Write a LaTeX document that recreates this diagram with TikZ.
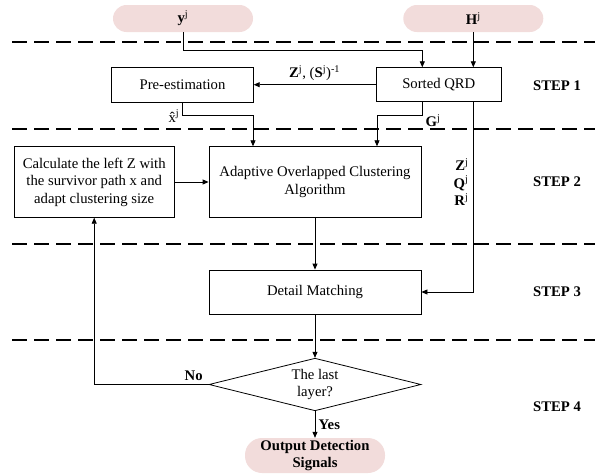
\documentclass[tikz,border=0pt]{standalone}
\usepackage{fontspec}
\setmainfont{Liberation Serif}
\usetikzlibrary{shapes.geometric, arrows.meta, positioning, calc}
\definecolor{pillpink}{RGB}{242,220,219}

\begin{document}
\begin{tikzpicture}[x=1pt, y=-1pt, align=center,
    font=\fontsize{14.7}{17.5}\selectfont,
    box/.style={draw, rectangle, line width=0.8pt, inner sep=2pt},
    pill/.style={rectangle, fill=pillpink, minimum width=140pt, inner sep=1pt},
    arr/.style={-{Triangle[length=6pt, width=5pt]}, line width=0.8pt},
    sepline/.style={dash pattern=on 15pt off 7pt, line width=1.6pt},
    steplabel/.style={font=\fontsize{14.7}{17.5}\selectfont\bfseries}]
    \useasboundingbox (0,0) rectangle (595,474);

    % step separators
    \foreach \y in {41.7, 129, 244, 340}
      \draw[sepline] (12,\y) -- (595,\y);

    \node [pill, rounded corners=13.5pt, minimum height=27pt] (yin) at (183,18.5) {\textbf{y}\textsuperscript{j}};
    \node [pill, rounded corners=13.5pt, minimum height=27pt] (hin) at (473.3,18.5) {\textbf{H}\textsuperscript{j}};

    \node [box, minimum width=141.6pt, minimum height=35pt] (pre) at (182.5,84.7) {Pre-estimation};
    \node [box, minimum width=125.7pt, minimum height=34pt] (qrd) at (438.8,84.7) {Sorted QRD};

    \node [box, minimum width=159.7pt, minimum height=70.6pt] (calc) at (94.2,182)
      {Calculate the left Z with\\the survivor path x and\\adapt clustering size};
    \node [box, minimum width=212pt, minimum height=70.6pt] (aoca) at (315,182)
      {Adaptive Overlapped Clustering\\Algorithm};

    \node [box, minimum width=212pt, minimum height=44pt] (detail) at (315,292) {Detail Matching};

    \node [draw, diamond, aspect=4, inner sep=0pt, line width=0.8pt, minimum width=212pt, minimum height=52.6pt] (last) at (315,384.5)
      {The last\\layer?};
    \node [pill, rounded corners=17pt, minimum height=35pt] (out) at (315,455.5)
      {\textbf{Output Detection}\\\textbf{Signals}};

    % step labels
    \foreach \y/\n in {85.7/1, 182/2, 292/3, 407/4}
      \node [steplabel] (step\n) at (557,\y) {STEP \n};

    % connectors
    \draw[arr] (yin.south) -- ++(0,18) -| ([xshift=-16.5pt]qrd.north);
    \draw[arr] (hin.south) -- (hin.south |- qrd.north);
    \draw[arr] (qrd.west) -- node[above] {\textbf{Z}\textsuperscript{j}, (\textbf{S}\textsuperscript{j})\textsuperscript{-1}} (pre.east);

    \draw[arr] (pre.south) -- ++(0,12.7) -| ([xshift=-62pt]aoca.north);
    \node (xhat) at (174,116) {\^{x}\textsuperscript{j}};
    \draw[arr] ([xshift=-16.5pt]qrd.south) -- ++(0,13.3) -| ([xshift=62pt]aoca.north);
    \node (glab) at (433,121) {\textbf{G}\textsuperscript{j}};

    \draw[arr] ([xshift=34.5pt]qrd.south) |- (detail.east);
    \node [anchor=east, align=right] (zqr) at (472,182)
      {\textbf{Z}\textsuperscript{j}\\\textbf{Q}\textsuperscript{j}\\\textbf{R}\textsuperscript{j}};

    \draw[arr] (calc.east) -- (aoca.west);
    \draw[arr] (aoca.south) -- (detail.north);
    \draw[arr] (detail.south) -- (last.north);
    \draw[arr] (last.west) -| node[pos=0.065, above] {\textbf{No}} (calc.south);
    \draw[arr] (last.south) -- node[right] {\textbf{Yes}} (out.north);
  \end{tikzpicture}
\end{document}
